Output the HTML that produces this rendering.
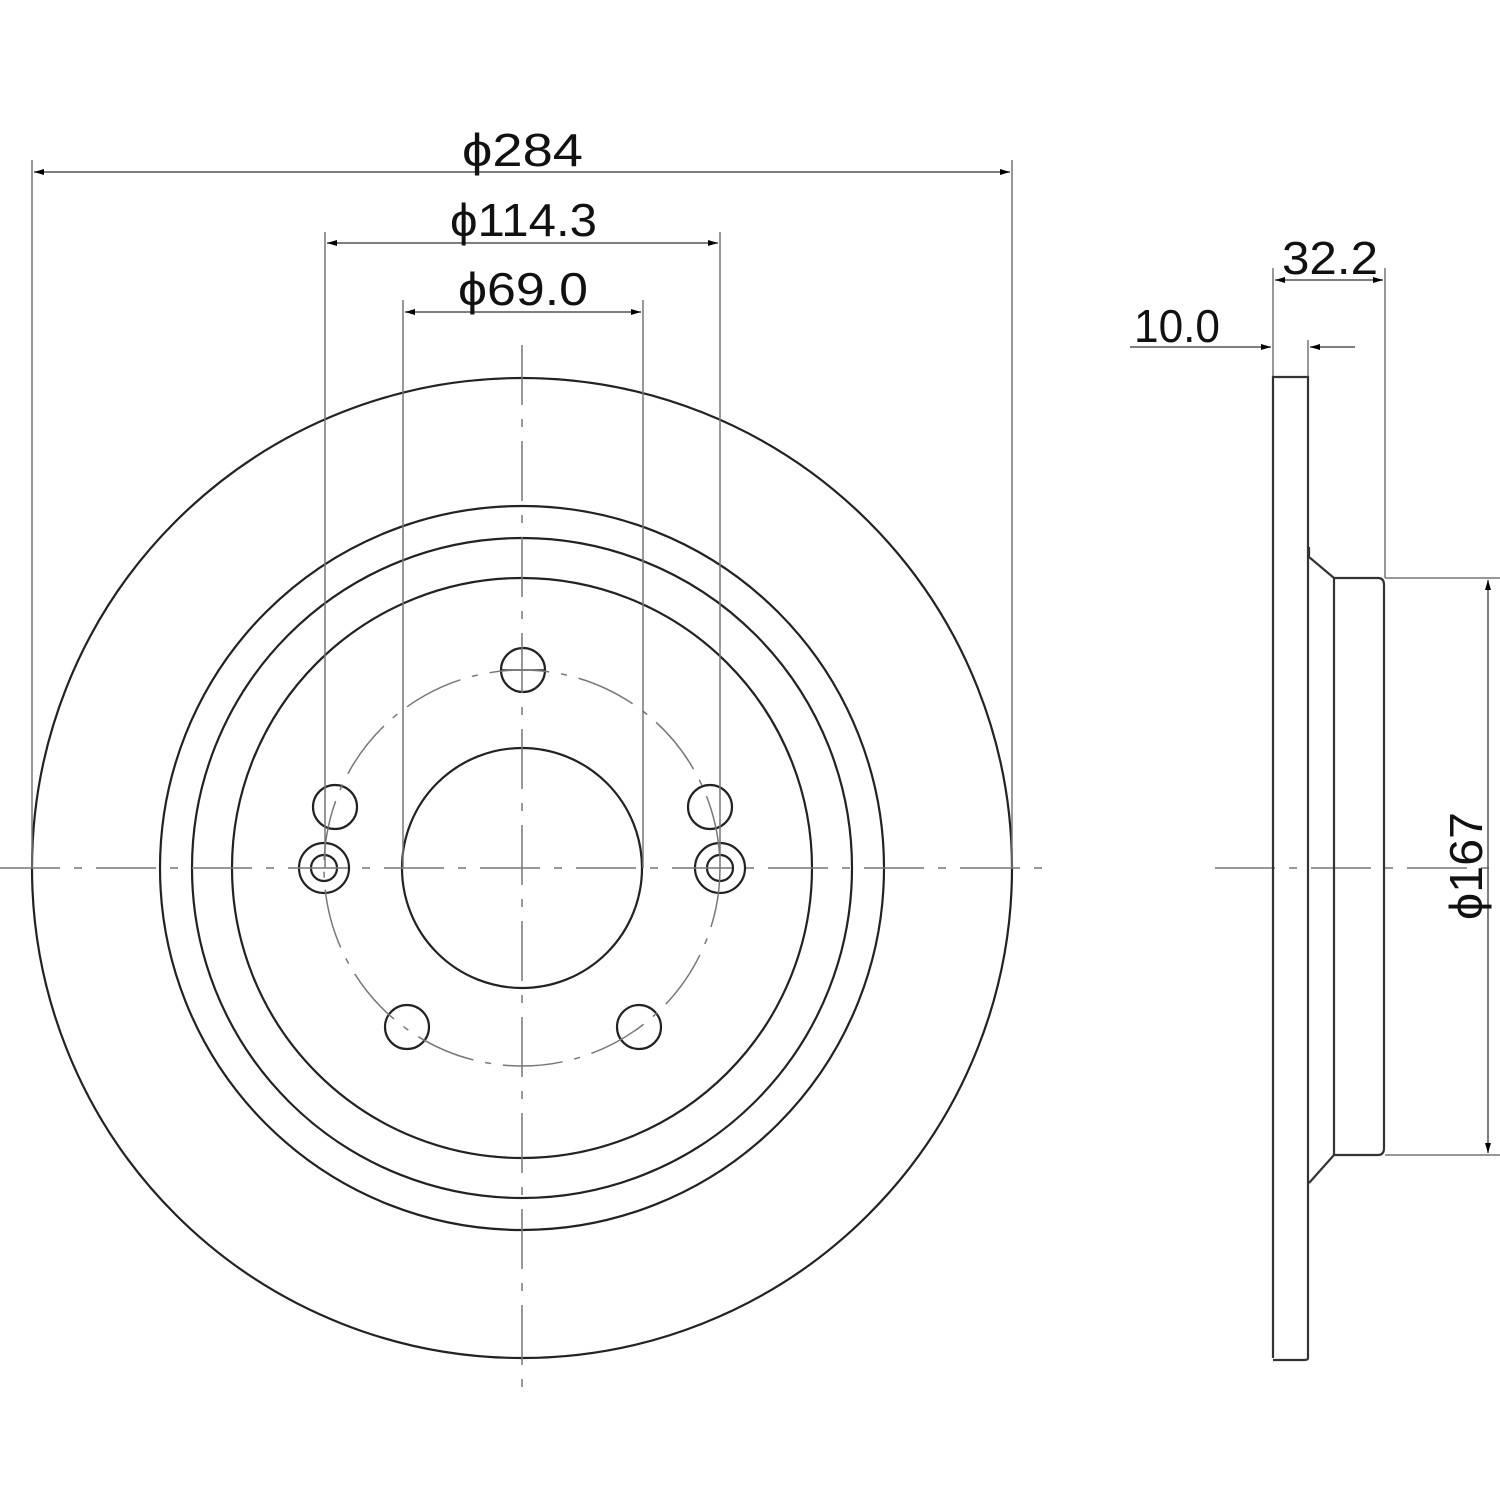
<!DOCTYPE html>
<html><head><style>html,body{margin:0;padding:0;background:#fff}svg{display:block}</style></head>
<body>
<svg width="1500" height="1500" viewBox="0 0 1500 1500" xmlns="http://www.w3.org/2000/svg">
<defs>
<marker id="a" viewBox="0 0 10 6" refX="10" refY="3" markerWidth="10" markerHeight="6" markerUnits="userSpaceOnUse" orient="auto-start-reverse"><path d="M0,0 L10,3 L0,6 z" fill="#000"/></marker>
</defs>
<g fill="none" stroke="#222" stroke-width="2.2">
<circle cx="522" cy="868" r="490"/>
<circle cx="522" cy="868" r="362"/>
<circle cx="522" cy="868" r="330"/>
<circle cx="522" cy="868" r="290"/>
<circle cx="522" cy="868" r="120"/>
<circle cx="523" cy="670" r="22"/>
<circle cx="335" cy="807" r="22"/>
<circle cx="710" cy="807" r="22"/>
<circle cx="407" cy="1027" r="22"/>
<circle cx="639" cy="1027" r="22"/>
<circle cx="324" cy="868" r="25"/>
<circle cx="324" cy="868" r="13"/>
<circle cx="720" cy="868" r="25"/>
<circle cx="720" cy="868" r="13"/>
<line x1="501" y1="670" x2="545" y2="670" stroke-width="1.5"/>
</g>
<g fill="none" stroke="#777" stroke-width="1.5">
<circle cx="522" cy="868" r="198" stroke-dasharray="60,12,6,12"/>
<line x1="0" y1="868" x2="1050" y2="868" stroke-dasharray="60,14,8,14"/>
<line x1="522" y1="345" x2="522" y2="1392" stroke-dasharray="60,14,8,14"/>
<line x1="1215" y1="868" x2="1500" y2="868" stroke-dasharray="60,14,8,14"/>
<line x1="32" y1="160" x2="32" y2="868"/>
<line x1="1012" y1="160" x2="1012" y2="868"/>
<line x1="325" y1="232" x2="325" y2="868"/>
<line x1="720" y1="232" x2="720" y2="868"/>
<line x1="403" y1="300" x2="403" y2="868"/>
<line x1="643" y1="300" x2="643" y2="868"/>
<line x1="1273" y1="268" x2="1273" y2="377"/>
<line x1="1385" y1="268" x2="1385" y2="578"/>
<line x1="1308" y1="340" x2="1308" y2="377"/>
<line x1="1385" y1="578" x2="1500" y2="578"/>
<line x1="1385" y1="1155" x2="1500" y2="1155"/>
</g>
<g stroke="#555" stroke-width="1.5">
<line x1="34" y1="172" x2="1010" y2="172" marker-start="url(#a)" marker-end="url(#a)"/>
<line x1="327" y1="243" x2="718" y2="243" marker-start="url(#a)" marker-end="url(#a)"/>
<line x1="405" y1="312" x2="641" y2="312" marker-start="url(#a)" marker-end="url(#a)"/>
<line x1="1275" y1="280" x2="1383" y2="280" marker-start="url(#a)" marker-end="url(#a)"/>
<line x1="1130" y1="347" x2="1271" y2="347" marker-end="url(#a)"/>
<line x1="1355" y1="347" x2="1310" y2="347" marker-end="url(#a)"/>
<line x1="1488" y1="580" x2="1488" y2="1153" marker-start="url(#a)" marker-end="url(#a)"/>
</g>
<g fill="none" stroke="#333" stroke-width="2.2">
<path d="M1273,1358 L1273,377 L1308,377 L1308,1358 Q1308,1360 1304,1360 L1273,1360"/>
<path d="M1309,547 L1309,557 L1334,578 L1378,578 Q1384,578 1384,585 L1384,1148 Q1384,1155 1378,1155 L1334,1155 L1309,1183"/>
<line x1="1334" y1="578" x2="1334" y2="1155"/>
</g>
<g font-family="Liberation Sans, sans-serif" font-size="46" fill="#111">
<text x="462" y="166" textLength="121" lengthAdjust="spacingAndGlyphs">ϕ284</text>
<text x="450" y="236" textLength="147" lengthAdjust="spacingAndGlyphs">ϕ114.3</text>
<text x="458" y="305" textLength="130" lengthAdjust="spacingAndGlyphs">ϕ69.0</text>
<text x="1282" y="274" textLength="96" lengthAdjust="spacingAndGlyphs">32.2</text>
<text x="1134" y="342" textLength="86" lengthAdjust="spacingAndGlyphs">10.0</text>
<text transform="translate(1482,920) rotate(-90)" textLength="108" lengthAdjust="spacingAndGlyphs">ϕ167</text>
</g>
</svg>
</body></html>
